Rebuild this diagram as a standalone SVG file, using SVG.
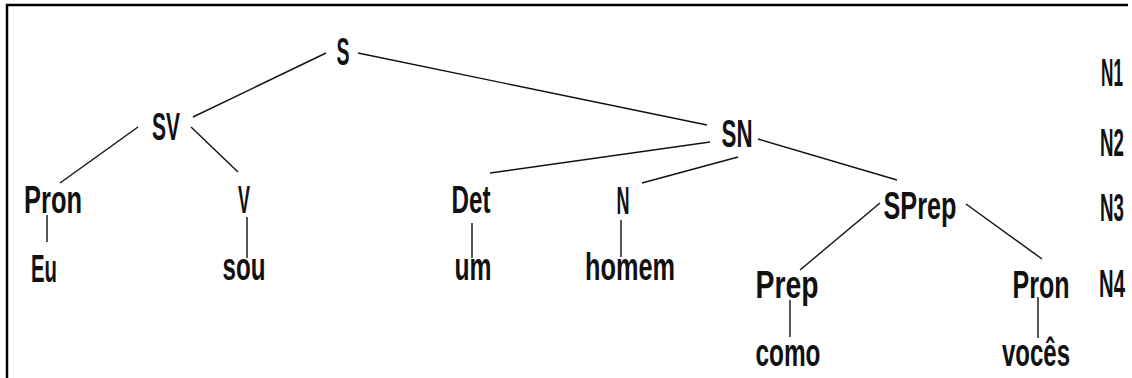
<svg xmlns="http://www.w3.org/2000/svg" width="1132" height="378" viewBox="0 0 1132 378">
  <style>
    text { font-family: "Liberation Sans", Arial, sans-serif; font-size: 39px; font-weight: bold; fill: #111; text-anchor: middle; }
    .lvl { text-anchor: start; }
    .edge { stroke: #111; stroke-width: 1.4; fill: none; }
    .frame { stroke: #000; stroke-width: 2.5; fill: none; }
  </style>
  <rect width="1132" height="378" fill="#fff"/>
  <!-- open frame: top and left sides -->
  <path class="frame" d="M7,378 V5 H1128"/>

  <g id="connectors">
    <line class="edge" x1="326" y1="53" x2="193" y2="117"/>
    <line class="edge" x1="358" y1="53" x2="707" y2="125"/>
    <line class="edge" x1="138" y1="127" x2="60" y2="183"/>
    <line class="edge" x1="191" y1="127" x2="238" y2="172"/>
    <line class="edge" x1="710" y1="142" x2="490" y2="173"/>
    <line class="edge" x1="738" y1="157" x2="642" y2="183"/>
    <line class="edge" x1="758" y1="139" x2="897" y2="180"/>
    <line class="edge" x1="880" y1="203" x2="800" y2="270"/>
    <line class="edge" x1="966" y1="204" x2="1042" y2="259"/>
    <line class="edge" x1="47" y1="215" x2="47" y2="242"/>
    <line class="edge" x1="247" y1="217" x2="247" y2="258"/>
    <line class="edge" x1="472" y1="223" x2="472" y2="258"/>
    <line class="edge" x1="621" y1="220" x2="621" y2="257"/>
    <line class="edge" x1="790" y1="300" x2="790" y2="337"/>
    <line class="edge" x1="1038" y1="297" x2="1038" y2="338"/>
  </g>

  <g id="node-S"><text x="343" y="65" textLength="13" lengthAdjust="spacingAndGlyphs">S</text></g>
  <g id="node-SV"><text x="166" y="140" textLength="28" lengthAdjust="spacingAndGlyphs">SV</text></g>
  <g id="node-SN"><text x="737" y="147" textLength="31" lengthAdjust="spacingAndGlyphs">SN</text></g>
  <g id="node-Pron1"><text x="53" y="213" textLength="58" lengthAdjust="spacingAndGlyphs">Pron</text></g>
  <g id="node-V"><text x="244" y="213" textLength="12" lengthAdjust="spacingAndGlyphs">V</text></g>
  <g id="node-Det"><text x="471" y="213" textLength="39" lengthAdjust="spacingAndGlyphs">Det</text></g>
  <g id="node-N"><text x="623" y="214" textLength="13" lengthAdjust="spacingAndGlyphs">N</text></g>
  <g id="node-SPrep"><text x="920" y="219" textLength="73" lengthAdjust="spacingAndGlyphs">SPrep</text></g>
  <g id="node-Eu"><text x="44" y="282" textLength="26" lengthAdjust="spacingAndGlyphs">Eu</text></g>
  <g id="node-sou"><text x="244" y="280" textLength="43" lengthAdjust="spacingAndGlyphs">sou</text></g>
  <g id="node-um"><text x="473" y="280" textLength="37" lengthAdjust="spacingAndGlyphs">um</text></g>
  <g id="node-homem"><text x="630" y="280" textLength="90" lengthAdjust="spacingAndGlyphs">homem</text></g>
  <g id="node-Prep"><text x="787" y="298" textLength="63" lengthAdjust="spacingAndGlyphs">Prep</text></g>
  <g id="node-Pron2"><text x="1041" y="298" textLength="57" lengthAdjust="spacingAndGlyphs">Pron</text></g>
  <g id="node-como"><text x="788" y="366" textLength="65" lengthAdjust="spacingAndGlyphs">como</text></g>
  <g id="node-voces"><text x="1036" y="366" textLength="68" lengthAdjust="spacingAndGlyphs">vocês</text></g>

  <!-- level labels, squeezed horizontally -->
  <g id="levels">
    <text class="lvl" transform="translate(1101,86) scale(0.44,1)">N1</text>
    <text class="lvl" transform="translate(1100,156) scale(0.48,1)">N2</text>
    <text class="lvl" transform="translate(1100,221) scale(0.48,1)">N3</text>
    <text class="lvl" transform="translate(1099,297) scale(0.52,1)">N4</text>
  </g>
</svg>
